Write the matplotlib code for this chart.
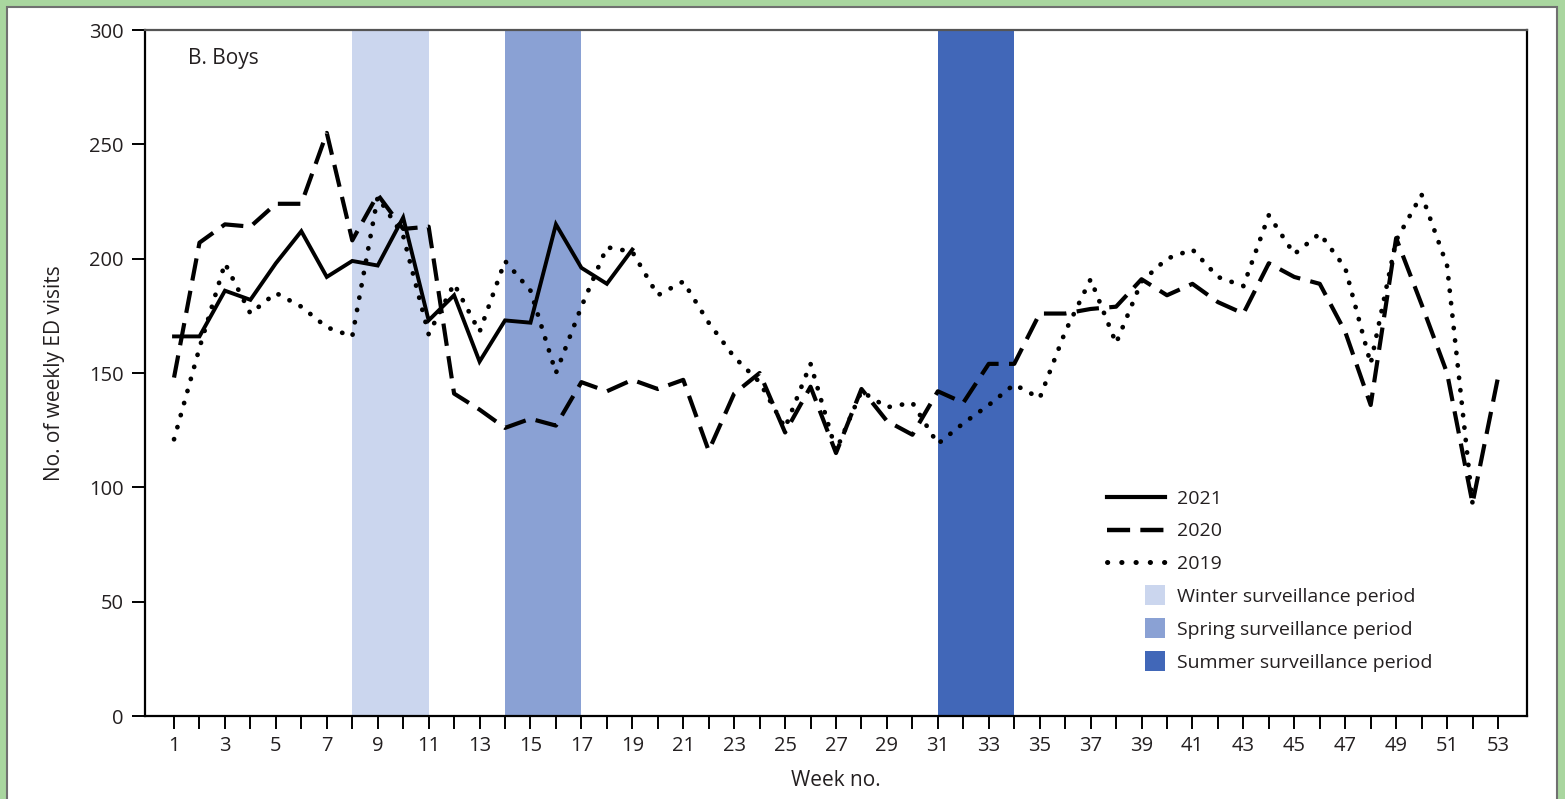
import matplotlib
matplotlib.use("Agg")
import matplotlib.pyplot as plt
import matplotlib.patches as mpatches
from matplotlib.lines import Line2D
from matplotlib.legend_handler import HandlerPatch

plt.rcParams['font.family'] = ['Open Sans', 'DejaVu Sans']

weeks_2021 = list(range(1, 20))
visits_2021 = [166, 166, 186, 182, 198, 212, 192, 199, 197, 218, 173, 184, 155, 173, 172, 215, 196, 189, 204]

weeks_2020 = list(range(1, 54))
visits_2020 = [148, 207, 215, 214, 224, 224, 255, 208, 228, 213, 214, 141, 134, 126, 130, 127, 146, 142, 147, 143,
               147, 116, 141, 150, 124, 144, 115, 143, 129, 123, 142, 137, 154, 154, 176, 176, 178, 179, 191, 184,
               189, 181, 176, 198, 192, 189, 168, 136, 209, 180, 150, 93, 148]

weeks_2019 = list(range(1, 53))
visits_2019 = [121, 161, 198, 176, 185, 179, 170, 166, 227, 210, 167, 189, 168, 199, 186, 150, 179, 205, 203, 184,
               190, 172, 157, 146, 126, 154, 116, 142, 135, 137, 119, 128, 136, 145, 139, 168, 191, 163, 190, 200,
               204, 192, 188, 219, 202, 211, 196, 154, 208, 228, 197, 93]

# surveillance periods (start week, end week)
periods = {
    "Winter surveillance period": (8, 11),
    "Spring surveillance period": (14, 17),
    "Summer surveillance period": (31, 34),
}
period_colors = ["#cbd6ee", "#8aa1d4", "#4167b8"]

txt = "#231f20"

fig = plt.figure(figsize=(15.65, 7.99), dpi=100)
fig.patch.set_facecolor("#a9d69f")
# white page with grey edge inside the green frame
page = mpatches.Rectangle((7 / 1565, -0.01), 1550 / 1565, 1 - 7 / 799 + 0.01,
                          transform=fig.transFigure, facecolor="white",
                          edgecolor="#707070", linewidth=1.5, zorder=-10)
fig.patches.append(page)

ax = fig.add_axes([145 / 1565, 1 - 716 / 799, 1382 / 1565, 686 / 799])
ax.set_zorder(1)

for (name, (a, b)), c in zip(periods.items(), period_colors):
    ax.axvspan(a, b, color=c, lw=0, zorder=0)

ax.plot(weeks_2021, visits_2021, color="black", lw=2.8, solid_joinstyle="miter", zorder=3)
ax.plot(weeks_2020, visits_2020, color="black", lw=3.0, dashes=(5.4, 2.5), zorder=3)
ax.plot(weeks_2019, visits_2019, color="black", lw=3.4, dashes=(0.05, 2.6),
        dash_capstyle="round", zorder=3)

ax.set_xlim(-0.14, 54.14)
ax.set_ylim(0, 300)
ax.set_xticks(range(1, 54, 2))
ax.set_xticks(range(2, 54, 2), minor=True)
ax.set_yticks(range(0, 301, 50))
ax.tick_params(axis="both", which="both", direction="out", length=9.5, width=1.4,
               colors="black", labelcolor=txt, labelsize=14.5)
ax.tick_params(axis="x", which="both", pad=5)
ax.tick_params(axis="y", pad=6)
for s in ax.spines.values():
    s.set_linewidth(1.6)
ax.spines["top"].set_color("#555555")

ax.set_xlabel("Week no.", fontsize=15, color=txt)
ax.set_ylabel("No. of weekly ED visits", fontsize=15, color=txt)
ax.xaxis.set_label_coords(0.5, -0.078)
ax.yaxis.set_label_coords(-0.058, 0.5)

ax.text(1.55, 287.5, "B. Boys", fontsize=15, color=txt, va="center", ha="left")


def square_handle(legend, orig_handle, xdescent, ydescent, width, height, fontsize):
    s = 20 * 72 / 100
    return mpatches.Rectangle((width - s - xdescent, -ydescent + (height - s) / 2), s, s)


handles = [
    Line2D([], [], color="black", lw=3.0),
    Line2D([], [], color="black", lw=3.2, dashes=(5.2, 2.3)),
    Line2D([], [], color="black", lw=3.6, dashes=(0.05, 2.8), dash_capstyle="round"),
]
labels = ["2021", "2020", "2019"]
for name, c in zip(periods, period_colors):
    handles.append(mpatches.Patch(facecolor=c, edgecolor="none"))
    labels.append(name)

leg = ax.legend(handles, labels, loc="upper left", bbox_to_anchor=(0.696, 0.33),
                frameon=False, fontsize=14, handlelength=3.0, handletextpad=0.6,
                labelspacing=0.76, borderpad=0, borderaxespad=0,
                handler_map={mpatches.Patch: HandlerPatch(patch_func=square_handle)})
for t in leg.get_texts():
    t.set_color(txt)

fig.savefig("out.png", dpi=100, facecolor=fig.get_facecolor())
